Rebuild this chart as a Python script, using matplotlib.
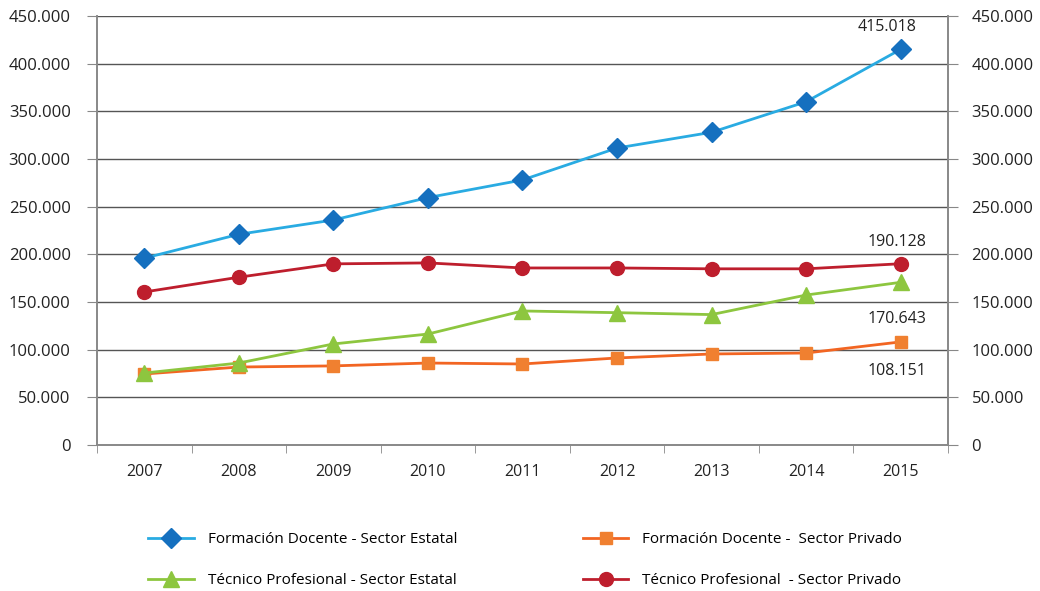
import numpy as np
import matplotlib
matplotlib.use('Agg')
import matplotlib.pyplot as plt
from matplotlib.ticker import FuncFormatter

plt.rcParams['font.family'] = ['Open Sans', 'DejaVu Sans']

years = ['2007', '2008', '2009', '2010', '2011', '2012', '2013', '2014', '2015']
fd_estatal = [196000, 221000, 236000, 259500, 278000, 311500, 328000, 360000, 415018]
fd_privado = [74500, 81800, 83000, 86000, 85000, 91300, 95500, 96500, 108151]
tp_estatal = [75500, 86000, 106000, 116400, 140600, 138800, 136800, 157300, 170643]
tp_privado = [160500, 176000, 190000, 191000, 185700, 185700, 184800, 184800, 190128]

x = np.arange(len(years))

fig = plt.figure(figsize=(10.4, 5.91), dpi=100)
ax = fig.add_axes([0.0933, 0.247, 0.8182, 0.726])

l1, = ax.plot(x, fd_estatal, color='#29ABE2', lw=2, marker='D', ms=10,
              mfc='#1570BF', mec='#1570BF', label='Formación Docente - Sector Estatal')
l2, = ax.plot(x, fd_privado, color='#F26522', lw=2, marker='s', ms=9,
              mfc='#F08030', mec='#F08030', label='Formación Docente -  Sector Privado')
l3, = ax.plot(x, tp_estatal, color='#8DC63F', lw=2, marker='^', ms=12,
              mfc='#8DC63F', mec='#8DC63F', label='Técnico Profesional - Sector Estatal')
l4, = ax.plot(x, tp_privado, color='#BE1E2D', lw=2, marker='o', ms=10,
              mfc='#BE1E2D', mec='#BE1E2D', label='Técnico Profesional  - Sector Privado')

ax.set_xlim(-0.5, 8.5)
ax.set_ylim(0, 450000)
yt = np.arange(0, 450001, 50000)
ax.set_yticks(yt)
fmt = FuncFormatter(lambda v, p: '0' if v == 0 else f'{int(v):,}'.replace(',', '.'))
ax.yaxis.set_major_formatter(fmt)
for y in yt[1:]:
    ax.axhline(y, color='#555555', lw=1, zorder=0)

ax.set_xticks(x)
ax.set_xticklabels(years)
ax.set_xticks(np.arange(-0.5, 9, 1), minor=True)
ax.tick_params(axis='x', which='major', length=0, pad=14, labelsize=11.5, colors='#222222')
ax.tick_params(axis='x', which='minor', length=6, color='#888888', direction='out')
ax.tick_params(axis='y', length=7, color='#888888', labelsize=12, labelcolor='#222222', pad=12)

ax.spines['top'].set_visible(False)
for s in ['left', 'right', 'bottom']:
    ax.spines[s].set_color('#888888')
    ax.spines[s].set_linewidth(1.2)

ax2 = ax.twinx()
ax2.set_ylim(ax.get_ylim())
ax2.set_yticks(yt)
ax2.yaxis.set_major_formatter(fmt)
ax2.tick_params(axis='y', length=7, color='#888888', labelsize=12, labelcolor='#222222', pad=10)
ax2.spines['top'].set_visible(False)
for s in ['left', 'right', 'bottom']:
    ax2.spines[s].set_color('#888888')
    ax2.spines[s].set_linewidth(1.2)

lab = lambda v: f'{v:,}'.replace(',', '.')
ax.annotate(lab(fd_estatal[-1]), (8, fd_estatal[-1]), xytext=(-10, 10),
            textcoords='offset points', ha='center', va='bottom', fontsize=11.5, color='#222222')
ax.annotate(lab(tp_privado[-1]), (8, tp_privado[-1]), xytext=(-3, 10),
            textcoords='offset points', ha='center', va='bottom', fontsize=11.5, color='#222222')
ax.annotate(lab(tp_estatal[-1]), (8, tp_estatal[-1]), xytext=(-3, -21),
            textcoords='offset points', ha='center', va='top', fontsize=11.5, color='#222222')
ax.annotate(lab(fd_privado[-1]), (8, fd_privado[-1]), xytext=(-3, -15),
            textcoords='offset points', ha='center', va='top', fontsize=11.5, color='#222222')

fig.legend(handles=[l1, l3, l2, l4], ncol=2, loc='center',
           bbox_to_anchor=(0.505, 0.052), frameon=False, fontsize=11,
           handlelength=3, columnspacing=8.2, labelspacing=1.7, handletextpad=0.9)

fig.savefig('out.png', dpi=100)
